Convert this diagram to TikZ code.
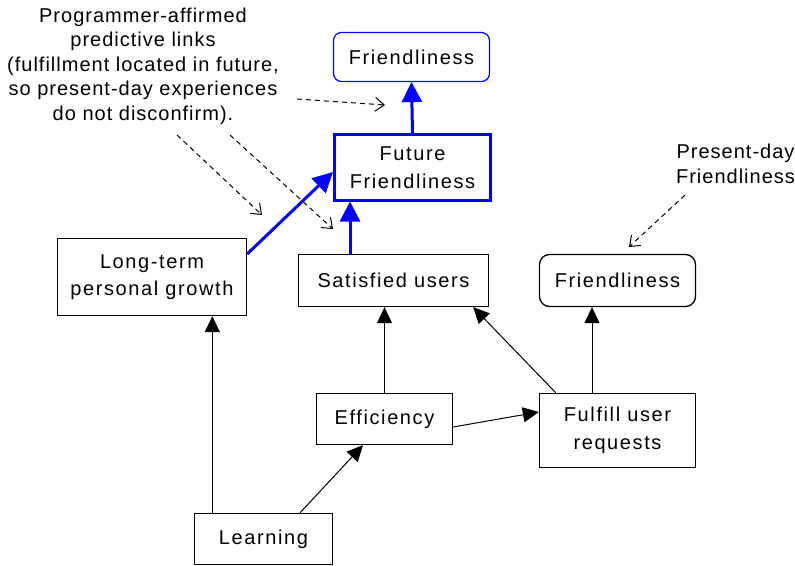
\documentclass[tikz,border=0pt]{standalone}
\usepackage{fontspec}
\setmainfont{Liberation Sans}[LetterSpace=5]
\usetikzlibrary{arrows.meta,calc}
\definecolor{pureblue}{RGB}{0,0,255}
\begin{document}
\begin{tikzpicture}[x=1bp,y=-1bp,
  box/.style={draw=black, line width=1.3bp, inner sep=0pt, align=center,
    font=\fontsize{20bp}{27.5bp}\selectfont\addfontfeatures{LetterSpace=8}},
  bluebox/.style={box, draw=pureblue, line width=1.2bp, rounded corners=8bp},
  futbox/.style={box, draw=pureblue, line width=3bp},
  note/.style={inner sep=0pt, align=center, font=\fontsize{20bp}{24.5bp}\selectfont},
  arr/.style={line width=1bp, -{Triangle[length=16bp,width=15bp]}},
  barr/.style={draw=pureblue, line width=3bp, -{Triangle[length=20bp,width=20bp]}},
  darr/.style={line width=1bp, dash pattern=on 5bp off 4bp, -{Straight Barb[length=9bp,width=14bp]}}
]
\fill[white] (0,0) rectangle (795,566);
\useasboundingbox (0,0) rectangle (795,566);

% nodes
\node[bluebox, minimum width=156bp, minimum height=49bp] (ftop) at (411.5,57) {Friendliness};
\node[futbox, minimum width=156bp, minimum height=65bp] (future) at (412.5,167.5) {Future\\Friendliness};
\node[box, minimum width=189bp, minimum height=77bp] (longterm) at (152,277) {Long-term\\personal growth};
\node[box, minimum width=190bp, minimum height=52bp] (satisfied) at (393.5,280.5) {Satisfied users};
\node[box, rounded corners=10bp, minimum width=156bp, minimum height=52bp] (friend) at (617.5,280.5) {Friendliness};
\node[box, minimum width=136bp, minimum height=51bp] (eff) at (384.5,419) {Efficiency};
\node[box, minimum width=156bp, minimum height=74bp] (fulfill) at (617.5,430.5) {Fulfill user\\requests};
\node[box, minimum width=138bp, minimum height=51bp] (learning) at (263.5,539) {Learning};

% annotations
\node[note] (prog) at (143,66) {Programmer-affirmed\\predictive links\\(fulfillment located in future,\\so present-day experiences\\do not disconfirm).};
\node[note] (pres) at (735.5,164) {Present-day\\Friendliness};

\coordinate (d1s) at (297,99);  \coordinate (d1e) at (385,105);
\coordinate (d2s) at (177,135); \coordinate (d2e) at (262,215);
\coordinate (d3s) at (230,135); \coordinate (d3e) at (333,229);
\coordinate (d4s) at (685,195); \coordinate (d4e) at (629,247);
\draw[darr] (d1s) -- (d1e);
\draw[darr] (d2s) -- (d2e);
\draw[darr] (d3s) -- (d3e);
\draw[darr] (d4s) -- (d4e);

% black connectors
\coordinate (lx) at ([xshift=18.5bp]learning.north west);
\draw[arr] (lx) -- (lx |- longterm.south);
\draw[arr] ([xshift=36.5bp]learning.north) -- ([xshift=-21.5bp]eff.south);
\draw[arr] (eff.north) -- (eff.north |- satisfied.south);
\draw[arr] ([yshift=-8bp]eff.east) -- ([yshift=18.5bp]fulfill.west);
\draw[arr] ([xshift=17bp]fulfill.north west) -- ([xshift=-16bp]satisfied.south east);
\coordinate (fx) at ([xshift=-25.5bp]fulfill.north);
\draw[arr] (fx) -- (fx |- friend.south);

% blue connectors
\coordinate (sx) at ([xshift=-43.5bp]satisfied.north);
\draw[barr] (sx) -- (sx |- future.south);
\draw[barr] ([yshift=23bp]longterm.east) -- ([yshift=-4.5bp]future.west);
\draw[barr] (future.north) -- (ftop.south);
\end{tikzpicture}
\end{document}
